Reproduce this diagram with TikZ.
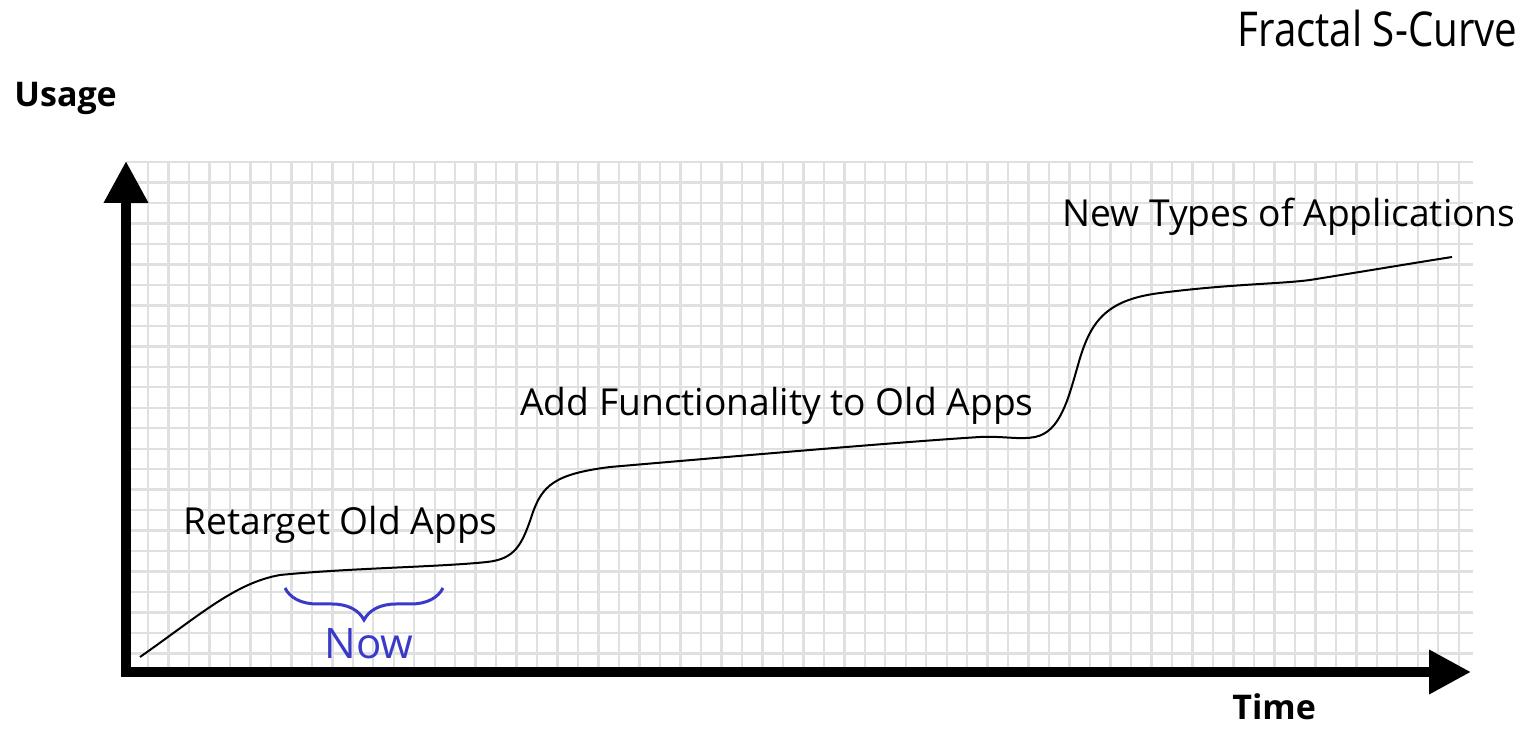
\documentclass[tikz,border=0pt]{standalone}
\usepackage{fontspec}
\setmainfont{Open Sans}
\newfontfamily\titlefont[FakeStretch=0.84]{Open Sans}
\usetikzlibrary{arrows.meta,decorations.pathreplacing}
\definecolor{nowblue}{RGB}{58,58,200}
\definecolor{gridgray}{RGB}{224,224,224}

\begin{document}
\begin{tikzpicture}[
  x=0.5pt, y=-0.5pt,
  gridline/.style={draw=gridgray, line width=1.2pt},
  axis/.style={line width=5pt, line cap=rect, -{Triangle[length=21pt, width=21pt]}},
  curve/.style={line width=1pt},
  phase/.style={anchor=base west, inner sep=0pt, font=\fontsize{18.6}{20}\selectfont},
  axislabel/.style={anchor=base west, inner sep=0pt, font=\fontsize{17}{19}\selectfont\bfseries},
  nowbrace/.style={draw=nowblue, line width=1.5pt, decorate, decoration={brace, mirror, amplitude=16pt}},
]
\useasboundingbox (0,0) rectangle (1539,732);

% === GRID PAPER ===
\foreach \k in {0,...,64}
  \draw[gridline] ({148+20.48*\k}, 162) -- ({148+20.48*\k}, 672);
\foreach \k in {0,...,24}
  \draw[gridline] (126, {162+20.48*\k}) -- (1473, {162+20.48*\k});

% === AXES ===
\coordinate (origin) at (126, 672);
\coordinate (ytop) at (126, 161);
\coordinate (xend) at (1471, 672);
\draw[axis] (origin) -- (ytop);
\draw[axis] (origin) -- (xend);

\node[axislabel] (usage) at (14, 107) {Usage};
\node[axislabel] (time) at (1232, 720) {Time};
\node[anchor=base east, inner sep=0pt, font=\fontsize{24}{26}\selectfont\titlefont] (title) at (1518, 47) {Fractal S-Curve};

% === THE CURVE ===
\draw[curve] (140,657) .. controls (200,615) and (235,583) .. (280,575)
  .. controls (350,568) and (440,567) .. (487,562)
  .. controls (515,559) and (522,545) .. (532,515)
  .. controls (542,485) and (555,474) .. (610,467)
  .. controls (750,455) and (900,442) .. (980,437)
  .. controls (1005,436) and (1020,440) .. (1035,437)
  .. controls (1060,432) and (1068,400) .. (1078,365)
  .. controls (1090,322) and (1105,300) .. (1160,293)
  .. controls (1230,284) and (1280,284) .. (1310,280)
  .. controls (1360,272) and (1420,262) .. (1452,257);

\node[phase] (retarget) at (183, 535) {Retarget Old Apps};
\node[phase] (addfunc) at (520, 416) {Add Functionality to Old Apps};
\node[phase] (newtypes) at (1062, 227) {New Types of Applications};

% === NOW ===
\coordinate (nowL) at (285, 588);
\coordinate (nowR) at (443, 588);
\draw[nowbrace] (nowL) -- (nowR);
\node[anchor=base, inner sep=0pt, text=nowblue, font=\fontsize{21}{23}\selectfont] (now) at (369, 659) {Now};
\end{tikzpicture}
\end{document}
